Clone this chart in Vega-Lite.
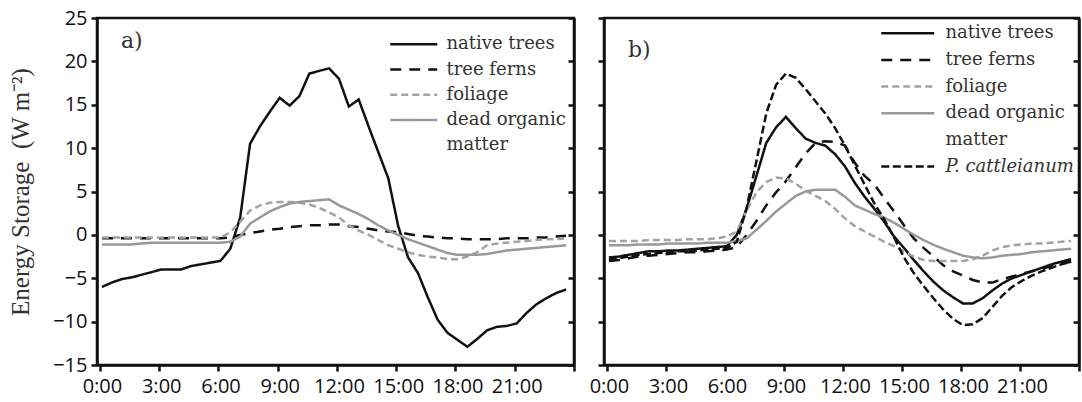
{
  "$schema": "https://vega.github.io/schema/vega-lite/v6.json",
  "padding": {"left": 7, "top": 6, "right": 0, "bottom": 0},
  "background": "white",
  "datasets": {
    "a": [
      {"h":0.1,"native trees":-6.0,"tree ferns":-0.4,"foliage":-0.3,"dead organic matter":-1.1},
      {"h":0.6,"native trees":-5.5,"tree ferns":-0.4,"foliage":-0.3,"dead organic matter":-1.1},
      {"h":1.1,"native trees":-5.1,"tree ferns":-0.4,"foliage":-0.3,"dead organic matter":-1.1},
      {"h":1.6,"native trees":-4.9,"tree ferns":-0.4,"foliage":-0.3,"dead organic matter":-1.1},
      {"h":2.1,"native trees":-4.6,"tree ferns":-0.4,"foliage":-0.3,"dead organic matter":-1.0},
      {"h":2.6,"native trees":-4.3,"tree ferns":-0.4,"foliage":-0.3,"dead organic matter":-0.9},
      {"h":3.1,"native trees":-4.0,"tree ferns":-0.4,"foliage":-0.3,"dead organic matter":-0.9},
      {"h":3.6,"native trees":-4.0,"tree ferns":-0.4,"foliage":-0.3,"dead organic matter":-0.9},
      {"h":4.1,"native trees":-4.0,"tree ferns":-0.4,"foliage":-0.3,"dead organic matter":-0.9},
      {"h":4.6,"native trees":-3.6,"tree ferns":-0.4,"foliage":-0.3,"dead organic matter":-0.9},
      {"h":5.1,"native trees":-3.4,"tree ferns":-0.4,"foliage":-0.3,"dead organic matter":-0.9},
      {"h":5.6,"native trees":-3.2,"tree ferns":-0.4,"foliage":-0.3,"dead organic matter":-0.9},
      {"h":6.1,"native trees":-3.0,"tree ferns":-0.4,"foliage":-0.3,"dead organic matter":-0.9},
      {"h":6.6,"native trees":-1.6,"tree ferns":-0.3,"foliage":0.3,"dead organic matter":-0.8},
      {"h":7.1,"native trees":2.0,"tree ferns":0.0,"foliage":1.5,"dead organic matter":-0.2},
      {"h":7.6,"native trees":10.5,"tree ferns":0.2,"foliage":2.8,"dead organic matter":1.3},
      {"h":8.1,"native trees":12.5,"tree ferns":0.4,"foliage":3.4,"dead organic matter":2.0},
      {"h":8.6,"native trees":14.2,"tree ferns":0.6,"foliage":3.7,"dead organic matter":2.7},
      {"h":9.1,"native trees":15.8,"tree ferns":0.7,"foliage":3.8,"dead organic matter":3.2},
      {"h":9.6,"native trees":14.9,"tree ferns":0.9,"foliage":3.8,"dead organic matter":3.6},
      {"h":10.1,"native trees":16.0,"tree ferns":1.0,"foliage":3.7,"dead organic matter":3.8},
      {"h":10.6,"native trees":18.6,"tree ferns":1.1,"foliage":3.5,"dead organic matter":3.9},
      {"h":11.1,"native trees":18.9,"tree ferns":1.1,"foliage":3.1,"dead organic matter":4.0},
      {"h":11.6,"native trees":19.2,"tree ferns":1.2,"foliage":2.6,"dead organic matter":4.1},
      {"h":12.1,"native trees":18.0,"tree ferns":1.2,"foliage":2.0,"dead organic matter":3.4},
      {"h":12.6,"native trees":14.8,"tree ferns":1.0,"foliage":1.1,"dead organic matter":2.9},
      {"h":13.1,"native trees":15.6,"tree ferns":0.9,"foliage":0.5,"dead organic matter":2.4},
      {"h":13.6,"native trees":12.5,"tree ferns":0.7,"foliage":0.0,"dead organic matter":1.8},
      {"h":14.1,"native trees":9.5,"tree ferns":0.5,"foliage":-0.6,"dead organic matter":1.1},
      {"h":14.6,"native trees":6.5,"tree ferns":0.4,"foliage":-1.2,"dead organic matter":0.5},
      {"h":15.1,"native trees":1.0,"tree ferns":0.3,"foliage":-1.6,"dead organic matter":0.0},
      {"h":15.6,"native trees":-2.6,"tree ferns":0.1,"foliage":-2.0,"dead organic matter":-0.5},
      {"h":16.1,"native trees":-4.4,"tree ferns":-0.1,"foliage":-2.3,"dead organic matter":-0.9},
      {"h":16.6,"native trees":-7.2,"tree ferns":-0.2,"foliage":-2.5,"dead organic matter":-1.3},
      {"h":17.1,"native trees":-9.8,"tree ferns":-0.3,"foliage":-2.6,"dead organic matter":-1.7},
      {"h":17.6,"native trees":-11.3,"tree ferns":-0.4,"foliage":-2.8,"dead organic matter":-2.1},
      {"h":18.1,"native trees":-12.1,"tree ferns":-0.4,"foliage":-2.8,"dead organic matter":-2.3},
      {"h":18.6,"native trees":-12.9,"tree ferns":-0.5,"foliage":-2.5,"dead organic matter":-2.3},
      {"h":19.1,"native trees":-12.0,"tree ferns":-0.5,"foliage":-2.0,"dead organic matter":-2.3},
      {"h":19.6,"native trees":-11.0,"tree ferns":-0.5,"foliage":-1.2,"dead organic matter":-2.2},
      {"h":20.1,"native trees":-10.6,"tree ferns":-0.5,"foliage":-1.0,"dead organic matter":-2.0},
      {"h":20.6,"native trees":-10.5,"tree ferns":-0.4,"foliage":-0.9,"dead organic matter":-1.8},
      {"h":21.1,"native trees":-10.2,"tree ferns":-0.4,"foliage":-0.8,"dead organic matter":-1.7},
      {"h":21.6,"native trees":-9.0,"tree ferns":-0.4,"foliage":-0.7,"dead organic matter":-1.6},
      {"h":22.1,"native trees":-8.0,"tree ferns":-0.3,"foliage":-0.6,"dead organic matter":-1.5},
      {"h":22.6,"native trees":-7.3,"tree ferns":-0.3,"foliage":-0.5,"dead organic matter":-1.4},
      {"h":23.1,"native trees":-6.7,"tree ferns":-0.2,"foliage":-0.5,"dead organic matter":-1.3},
      {"h":23.6,"native trees":-6.3,"tree ferns":-0.1,"foliage":-0.4,"dead organic matter":-1.2}
    ],
    "b": [
      {"h":0.1,"native trees":-2.6,"tree ferns":-3.0,"foliage":-0.7,"dead organic matter":-1.2,"P. cattleianum":-2.8},
      {"h":0.6,"native trees":-2.5,"tree ferns":-2.9,"foliage":-0.7,"dead organic matter":-1.2,"P. cattleianum":-2.7},
      {"h":1.1,"native trees":-2.3,"tree ferns":-2.7,"foliage":-0.7,"dead organic matter":-1.2,"P. cattleianum":-2.5},
      {"h":1.6,"native trees":-2.1,"tree ferns":-2.5,"foliage":-0.7,"dead organic matter":-1.1,"P. cattleianum":-2.3},
      {"h":2.1,"native trees":-1.9,"tree ferns":-2.4,"foliage":-0.6,"dead organic matter":-1.1,"P. cattleianum":-2.2},
      {"h":2.6,"native trees":-1.9,"tree ferns":-2.3,"foliage":-0.6,"dead organic matter":-1.1,"P. cattleianum":-2.1},
      {"h":3.1,"native trees":-1.8,"tree ferns":-2.2,"foliage":-0.6,"dead organic matter":-1.0,"P. cattleianum":-2.0},
      {"h":3.6,"native trees":-1.8,"tree ferns":-2.1,"foliage":-0.6,"dead organic matter":-1.0,"P. cattleianum":-1.9},
      {"h":4.1,"native trees":-1.7,"tree ferns":-2.0,"foliage":-0.5,"dead organic matter":-1.0,"P. cattleianum":-1.9},
      {"h":4.6,"native trees":-1.6,"tree ferns":-2.0,"foliage":-0.5,"dead organic matter":-1.0,"P. cattleianum":-1.8},
      {"h":5.1,"native trees":-1.5,"tree ferns":-1.9,"foliage":-0.5,"dead organic matter":-0.9,"P. cattleianum":-1.7},
      {"h":5.6,"native trees":-1.4,"tree ferns":-1.8,"foliage":-0.4,"dead organic matter":-0.9,"P. cattleianum":-1.6},
      {"h":6.1,"native trees":-1.3,"tree ferns":-1.7,"foliage":-0.2,"dead organic matter":-0.9,"P. cattleianum":-1.5},
      {"h":6.6,"native trees":0.0,"tree ferns":-1.4,"foliage":0.4,"dead organic matter":-0.7,"P. cattleianum":-0.8},
      {"h":7.1,"native trees":3.0,"tree ferns":0.0,"foliage":2.8,"dead organic matter":-0.4,"P. cattleianum":3.1},
      {"h":7.6,"native trees":6.8,"tree ferns":1.6,"foliage":4.9,"dead organic matter":0.6,"P. cattleianum":8.5},
      {"h":8.1,"native trees":10.6,"tree ferns":3.4,"foliage":6.1,"dead organic matter":1.6,"P. cattleianum":14.0},
      {"h":8.6,"native trees":12.4,"tree ferns":4.9,"foliage":6.6,"dead organic matter":2.7,"P. cattleianum":17.3},
      {"h":9.1,"native trees":13.6,"tree ferns":6.2,"foliage":6.5,"dead organic matter":3.6,"P. cattleianum":18.6},
      {"h":9.6,"native trees":12.3,"tree ferns":7.8,"foliage":5.9,"dead organic matter":4.5,"P. cattleianum":18.1},
      {"h":10.1,"native trees":11.1,"tree ferns":9.4,"foliage":5.1,"dead organic matter":5.0,"P. cattleianum":16.8},
      {"h":10.6,"native trees":10.6,"tree ferns":10.6,"foliage":4.5,"dead organic matter":5.2,"P. cattleianum":15.4},
      {"h":11.1,"native trees":10.3,"tree ferns":10.8,"foliage":3.9,"dead organic matter":5.2,"P. cattleianum":14.0},
      {"h":11.6,"native trees":9.3,"tree ferns":10.7,"foliage":3.0,"dead organic matter":5.2,"P. cattleianum":12.3},
      {"h":12.1,"native trees":7.9,"tree ferns":10.3,"foliage":1.9,"dead organic matter":4.4,"P. cattleianum":10.3},
      {"h":12.6,"native trees":6.0,"tree ferns":8.3,"foliage":1.0,"dead organic matter":3.4,"P. cattleianum":8.0},
      {"h":13.1,"native trees":4.4,"tree ferns":6.8,"foliage":0.4,"dead organic matter":2.9,"P. cattleianum":5.8},
      {"h":13.6,"native trees":3.0,"tree ferns":5.8,"foliage":-0.2,"dead organic matter":2.4,"P. cattleianum":3.6},
      {"h":14.1,"native trees":1.5,"tree ferns":4.2,"foliage":-0.8,"dead organic matter":2.0,"P. cattleianum":1.8},
      {"h":14.6,"native trees":-0.2,"tree ferns":2.7,"foliage":-1.3,"dead organic matter":1.4,"P. cattleianum":-0.3},
      {"h":15.1,"native trees":-1.5,"tree ferns":1.1,"foliage":-1.9,"dead organic matter":0.7,"P. cattleianum":-2.6},
      {"h":15.6,"native trees":-2.9,"tree ferns":-0.4,"foliage":-2.5,"dead organic matter":0.0,"P. cattleianum":-4.4},
      {"h":16.1,"native trees":-4.2,"tree ferns":-1.5,"foliage":-2.9,"dead organic matter":-0.6,"P. cattleianum":-5.9},
      {"h":16.6,"native trees":-5.4,"tree ferns":-2.5,"foliage":-3.0,"dead organic matter":-1.15,"P. cattleianum":-7.3},
      {"h":17.1,"native trees":-6.4,"tree ferns":-3.5,"foliage":-3.0,"dead organic matter":-1.6,"P. cattleianum":-8.6},
      {"h":17.6,"native trees":-7.2,"tree ferns":-4.2,"foliage":-3.0,"dead organic matter":-2.0,"P. cattleianum":-9.7},
      {"h":18.1,"native trees":-7.9,"tree ferns":-4.7,"foliage":-3.0,"dead organic matter":-2.4,"P. cattleianum":-10.4},
      {"h":18.6,"native trees":-7.9,"tree ferns":-5.2,"foliage":-2.8,"dead organic matter":-2.6,"P. cattleianum":-10.3},
      {"h":19.1,"native trees":-7.3,"tree ferns":-5.5,"foliage":-2.4,"dead organic matter":-2.7,"P. cattleianum":-9.6},
      {"h":19.6,"native trees":-6.4,"tree ferns":-5.5,"foliage":-1.8,"dead organic matter":-2.6,"P. cattleianum":-8.3},
      {"h":20.1,"native trees":-5.6,"tree ferns":-5.1,"foliage":-1.4,"dead organic matter":-2.4,"P. cattleianum":-7.0},
      {"h":20.6,"native trees":-5.0,"tree ferns":-4.8,"foliage":-1.2,"dead organic matter":-2.3,"P. cattleianum":-6.0},
      {"h":21.1,"native trees":-4.6,"tree ferns":-4.5,"foliage":-1.1,"dead organic matter":-2.2,"P. cattleianum":-5.3},
      {"h":21.6,"native trees":-4.2,"tree ferns":-4.2,"foliage":-1.0,"dead organic matter":-2.0,"P. cattleianum":-4.7},
      {"h":22.1,"native trees":-3.8,"tree ferns":-3.9,"foliage":-1.0,"dead organic matter":-1.9,"P. cattleianum":-4.2},
      {"h":22.6,"native trees":-3.4,"tree ferns":-3.6,"foliage":-0.9,"dead organic matter":-1.8,"P. cattleianum":-3.8},
      {"h":23.1,"native trees":-3.1,"tree ferns":-3.3,"foliage":-0.8,"dead organic matter":-1.7,"P. cattleianum":-3.4},
      {"h":23.6,"native trees":-2.8,"tree ferns":-3.1,"foliage":-0.7,"dead organic matter":-1.6,"P. cattleianum":-3.1}
    ]
  },
  "hconcat": [
    {
      "width": 477,
      "height": 347,
      "data": {"name": "a"},
      "transform": [{"fold": ["native trees", "tree ferns", "foliage", "dead organic matter"], "as": ["series", "value"]}],
      "title": {"text": "a)", "anchor": "start", "frame": "group", "orient": "top", "offset": -62, "dx": 24, "baseline": "alphabetic", "font": "DejaVu Serif", "fontSize": 22, "fontWeight": "normal", "color": "#333"},
      "layer": [
        {
          "mark": {"type": "line", "strokeWidth": 2.5},
          "encoding": {
            "x": {"field": "h", "type": "quantitative", "scale": {"domain": [-0.15, 24], "nice": false, "zero": false},
                  "axis": {"values": [0,3,6,9,12,15,18,21,24], "labelExpr": "datum.value >= 24 ? '' : datum.value + ':00'", "title": null, "labelFlush": false, "labelOverlap": false, "labelPadding": 5, "labelOffset": 2}},
            "y": {"field": "value", "type": "quantitative", "scale": {"domain": [-15, 25], "nice": false, "zero": false},
                  "axis": {"values": [-15,-10,-5,0,5,10,15,20,25], "title": "Energy Storage\u00a0 (W m\u207b\u00b2)", "titlePadding": 19}},
            "color": {"field": "series", "type": "nominal",
                      "scale": {"domain": ["native trees", "tree ferns", "foliage", "dead organic matter", "matter"], "range": ["#111111", "#111111", "#a3a3a3", "#999999", "rgba(0,0,0,0)"]},
                      "legend": {"title": null, "orient": "none", "legendX": 303.75, "legendY": 13.25, "padding": 0, "symbolType": "M-2,0H2", "symbolSize": 552, "symbolStrokeWidth": 2.5, "symbolFillColor": "transparent", "rowPadding": 3.25, "labelOffset": 19.75, "labelExpr": "datum.label == 'dead organic matter' ? 'dead organic' : datum.label"}},
            "strokeDash": {"field": "series", "type": "nominal",
                      "scale": {"domain": ["native trees", "tree ferns", "foliage", "dead organic matter", "matter"], "range": [[1,0],[11,8],[7,4],[1,0],[1,0]]},
                      "legend": {"title": null, "orient": "none", "legendX": 303.75, "legendY": 13.25, "padding": 0, "symbolType": "M-2,0H2", "symbolSize": 552, "symbolStrokeWidth": 2.5, "symbolFillColor": "transparent", "rowPadding": 3.25, "labelOffset": 19.75, "labelExpr": "datum.label == 'dead organic matter' ? 'dead organic' : datum.label"}}
          }
        },
        {
          "mark": {"type": "point", "opacity": 0},
          "encoding": {
            "x": {"field": "h", "type": "quantitative"},
            "y": {"field": "value", "type": "quantitative", "axis": {"orient": "right", "labels": false, "tickSize": -6, "title": null, "values": [-15,-10,-5,0,5,10,15,20,25]}}
          }
        }
      ],
      "resolve": {"axis": {"y": "independent"}}
    },
    {
      "width": 475,
      "height": 347,
      "data": {"name": "b"},
      "transform": [{"fold": ["native trees", "tree ferns", "foliage", "dead organic matter", "P\\. cattleianum"], "as": ["series", "value"]}],
      "title": {"text": "b)", "anchor": "start", "frame": "group", "orient": "top", "offset": -62, "dx": 24, "baseline": "alphabetic", "font": "DejaVu Serif", "fontSize": 22, "fontWeight": "normal", "color": "#333"},
      "layer": [
        {
          "mark": {"type": "line", "strokeWidth": 2.5},
          "encoding": {
            "x": {"field": "h", "type": "quantitative", "scale": {"domain": [-0.15, 24], "nice": false, "zero": false},
                  "axis": {"values": [0,3,6,9,12,15,18,21,24], "labelExpr": "datum.value >= 24 ? '' : datum.value + ':00'", "title": null, "labelFlush": false, "labelOverlap": false, "labelPadding": 5, "labelOffset": 2}},
            "y": {"field": "value", "type": "quantitative", "scale": {"domain": [-15, 25], "nice": false, "zero": false},
                  "axis": {"values": [-15,-10,-5,0,5,10,15,20,25], "title": null, "labels": false}},
            "color": {"field": "series", "type": "nominal",
                      "scale": {"domain": ["native trees", "tree ferns", "foliage", "dead organic matter", "matter", "P. cattleianum"], "range": ["#111111", "#111111", "#a3a3a3", "#999999", "rgba(0,0,0,0)", "#111111"]},
                      "legend": {"title": null, "orient": "none", "legendX": 289.25, "legendY": 0.75, "padding": 0, "symbolType": "M-2,0H2", "symbolSize": 702, "symbolStrokeWidth": 2.5, "symbolFillColor": "transparent", "rowPadding": 2.65, "labelOffset": 23.25, "labelExpr": "datum.label == 'dead organic matter' ? 'dead organic' : datum.label", "labelFontStyle": {"expr": "datum.value == 'P. cattleianum' ? 'italic' : 'normal'"}}},
            "strokeDash": {"field": "series", "type": "nominal",
                      "scale": {"domain": ["native trees", "tree ferns", "foliage", "dead organic matter", "matter", "P. cattleianum"], "range": [[1,0],[11,8],[7,4],[1,0],[1,0],[8,3.5]]},
                      "legend": {"title": null, "orient": "none", "legendX": 289.25, "legendY": 0.75, "padding": 0, "symbolType": "M-2,0H2", "symbolSize": 702, "symbolStrokeWidth": 2.5, "symbolFillColor": "transparent", "rowPadding": 2.65, "labelOffset": 23.25, "labelExpr": "datum.label == 'dead organic matter' ? 'dead organic' : datum.label", "labelFontStyle": {"expr": "datum.value == 'P. cattleianum' ? 'italic' : 'normal'"}}}
          }
        },
        {
          "mark": {"type": "point", "opacity": 0},
          "encoding": {
            "x": {"field": "h", "type": "quantitative"},
            "y": {"field": "value", "type": "quantitative", "axis": {"orient": "right", "labels": false, "tickSize": -6, "title": null, "values": [-15,-10,-5,0,5,10,15,20,25]}}
          }
        }
      ],
      "resolve": {"axis": {"y": "independent"}}
    }
  ],
  "spacing": 9,
  "resolve": {"scale": {"color": "independent", "strokeDash": "independent"}, "legend": {"color": "independent", "strokeDash": "independent"}},
  "config": {
    "view": {"stroke": "#111111", "strokeWidth": 2.5},
    "axis": {"grid": false, "domainColor": "#111111", "domainWidth": 2.5, "tickColor": "#111111", "tickWidth": 2.5, "tickSize": 6,
             "labelFont": "Open Sans", "labelFontSize": 20, "labelColor": "#111111", "labelPadding": 4,
             "titleFont": "Liberation Serif", "titleFontSize": 25, "titleFontWeight": "normal", "titleColor": "#333333"},
    "legend": {"labelFont": "DejaVu Serif", "labelFontSize": 18, "labelColor": "#333333", "labelLimit": 300}
  }
}
